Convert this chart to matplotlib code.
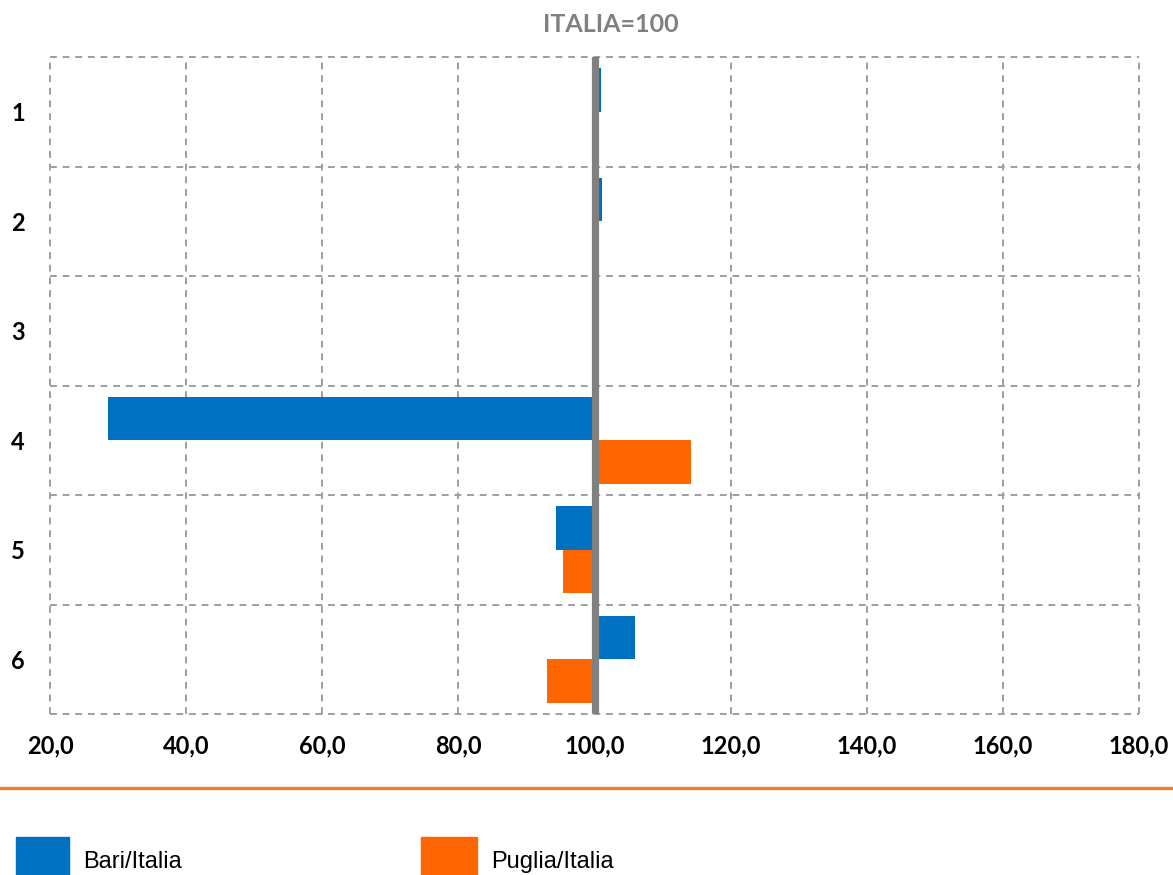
import matplotlib
matplotlib.use("Agg")
import matplotlib.pyplot as plt
from matplotlib.patches import Rectangle
from matplotlib.lines import Line2D

categories = ["1", "2", "3", "4", "5", "6"]
bari = [101.0, 101.1, 100.0, 28.5, 94.3, 106.0]
puglia = [100.0, 100.0, 100.0, 114.2, 95.4, 93.0]
series_names = ["Bari/Italia", "Puglia/Italia"]
xticks = [20, 40, 60, 80, 100, 120, 140, 160, 180]
title = "ITALIA=100"

BLUE = "#0070C0"
ORANGE = "#FF6600"
GRID = "#9E9E9E"

fig = plt.figure(figsize=(11.73, 8.75), dpi=100)
ax = fig.add_axes([50/1173, 1-714/875, (1139-50)/1173, (714-57)/875])

pos = list(range(1, len(categories)+1))
h = 0.397
ax.barh([p - h/2 for p in pos], [b - 100 for b in bari], left=100, height=h,
        color=BLUE, zorder=3)
ax.barh([p + h/2 for p in pos], [v - 100 for v in puglia], left=100, height=h,
        color=ORANGE, zorder=3)

ax.set_xlim(20, 180)
ax.set_ylim(len(categories)+0.5, 0.5)

dash = (0, (3.5, 3))
for x in xticks:
    ax.axvline(x, color=GRID, lw=1.4, ls=dash, zorder=1, clip_on=False)
for y in [p - 0.5 for p in pos] + [len(categories)+0.5]:
    ax.axhline(y, color=GRID, lw=1.4, ls=dash, zorder=1, clip_on=False)

ax.axvline(100, color="#808080", lw=5.2, zorder=4)

for s in ax.spines.values():
    s.set_visible(False)

ax.set_xticks(xticks)
ax.set_xticklabels([f"{x:.1f}".replace(".", ",") for x in xticks])
ax.set_yticks(pos)
ax.set_yticklabels(categories)
ax.tick_params(axis="x", length=0, pad=15, labelsize=17)
ax.tick_params(axis="y", length=0, pad=18, labelsize=17)
for lab in ax.get_xticklabels() + ax.get_yticklabels():
    lab.set_fontfamily(["Lato", "DejaVu Sans"])
    lab.set_fontweight("bold")
    lab.set_color("#000000")

fig.text(611/1173, 1-25/875, title, ha="center", va="center", fontsize=18,
         fontweight="bold", color="#808080", family=["Lato", "DejaVu Sans"])

fig.add_artist(Line2D([0, 1], [1-788/875, 1-788/875], color="#ED7D31", lw=2.4,
                      transform=fig.transFigure))

fig.add_artist(Rectangle((16/1173, 0), 53/1173, 38/875, color=BLUE,
                         transform=fig.transFigure))
fig.add_artist(Rectangle((421/1173, 0), 56/1173, 38/875, color=ORANGE,
                         transform=fig.transFigure))
fig.text(83/1173, 1-868/875, series_names[0], ha="left", va="baseline", fontsize=17,
         family=["Liberation Sans Narrow", "Liberation Sans"], color="#000000")
fig.text(491/1173, 1-868/875, series_names[1], ha="left", va="baseline", fontsize=17,
         family=["Liberation Sans Narrow", "Liberation Sans"], color="#000000")

fig.savefig("out.png", dpi=100)
